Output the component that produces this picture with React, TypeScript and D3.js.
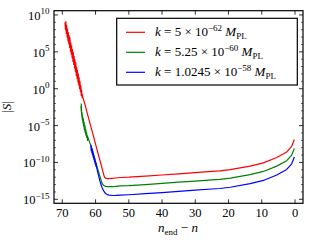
import * as d3 from "d3";

// [n_end - n, log10 |S|]
const redCurve: [number, number][] = [
  [69.2, 8.97], [69.05, 8.0], [68.95, 9.1], [68.8, 7.5], [68.7, 8.6], [68.55, 7.0], [68.45, 8.1],
  [68.3, 6.5], [68.2, 7.6], [68.05, 6.1], [67.95, 7.2], [67.8, 5.6], [67.7, 6.9], [67.55, 5.1],
  [67.45, 6.2], [67.3, 4.7], [67.2, 5.8], [67.05, 4.2], [66.95, 5.3], [66.8, 3.7], [66.7, 4.9],
  [66.55, 3.3], [66.45, 4.4], [66.3, 2.8], [66.2, 3.9], [66.05, 2.3], [65.95, 3.5], [65.8, 1.8],
  [65.7, 2.9], [65.55, 1.4], [65.45, 2.5], [65.3, 0.9], [65.2, 2.0], [65.05, 0.5], [64.95, 1.5],
  [64.8, 0.0], [64.7, 1.0], [64.55, -0.4], [64.45, 0.4], [64.3, -0.9], [64.2, -0.2], [64.05, -1.2],
  [63.95, -0.8], [63.86, -1.1], [63.4, -1.8], [63, -2.47], [62, -4.15], [61, -5.83], [60, -7.51],
  [59, -9.19], [58, -10.87], [57.5, -11.71], [57.3, -12.0], [57.0, -12.13], [56.6, -12.18],
  [56, -12.18], [55, -12.15], [54, -12.11], [52.6, -12.04], [50, -12.0], [45, -11.86], [40, -11.7],
  [35, -11.54], [30, -11.38], [25, -11.22], [22.6, -11.15], [19.5, -10.98], [13.5, -10.5],
  [9.5, -10.06], [5.5, -9.33], [2.5, -8.58], [1.0, -7.81], [0.2, -6.9],
];

const greenCurve: [number, number][] = [
  [64.3, -2.0], [64.2, -3.2], [64.4, -2.4], [64.15, -3.7], [64.25, -2.9], [64.0, -4.1],
  [64.1, -3.2], [63.8, -4.6], [63.9, -3.7], [63.6, -5.0], [63.65, -4.1], [63.4, -5.5],
  [63.45, -4.6], [63.15, -5.9], [63.2, -5.0], [62.9, -6.3], [62.95, -5.5], [62.65, -6.6],
  [62.7, -6.0], [62.4, -7.0], [62.45, -6.4], [62.06, -6.9], [61.5, -7.62], [61, -8.38],
  [60, -9.9], [59, -11.41], [58.5, -12.17], [58.06, -12.8], [57.7, -13.05], [57.36, -13.17],
  [57.0, -13.24], [56.5, -13.28], [55, -13.28], [54, -13.25], [52.6, -13.19], [50, -13.15],
  [45, -13.0], [40, -12.84], [35, -12.68], [30, -12.52], [25, -12.36], [22.6, -12.29],
  [19.5, -12.12], [13.5, -11.66], [9.5, -11.22], [5.5, -10.5], [2.5, -9.76], [1.0, -9.0],
  [0.2, -8.12],
];

const blueCurve: [number, number][] = [
  [61.4, -7.6], [61.3, -8.4], [61.25, -7.8], [61.1, -8.7], [61.05, -8.1], [60.9, -9.0],
  [60.85, -8.4], [60.7, -9.3], [60.65, -8.75], [60.5, -9.6], [60.45, -9.1], [60.3, -9.9],
  [60.25, -9.45], [60.1, -10.2], [60.05, -9.8], [59.9, -10.5], [59.85, -10.1], [59.65, -10.75],
  [59.3, -11.4], [59.0, -11.95], [58.7, -12.5], [58.36, -13.0], [58.0, -13.45], [57.6, -13.82],
  [57.06, -14.19], [56.5, -14.36], [55.86, -14.44], [55, -14.48], [54, -14.47], [52.6, -14.43],
  [50, -14.38], [45, -14.24], [40, -14.08], [35, -13.92], [30, -13.76], [25, -13.6],
  [22.6, -13.53], [19.5, -13.36], [13.5, -12.88], [9.5, -12.44], [5.5, -11.71], [2.5, -10.95],
  [1.0, -10.18], [0.2, -9.25],
];

const xTicks = [70, 60, 50, 40, 30, 20, 10, 0];
const yMajorExp = [-15, -10, -5, 0, 5, 10];
const yMinorExp = [-14, -13, -12, -11, -9, -8, -7, -6, -4, -3, -2, -1, 1, 2, 3, 4, 6, 7, 8, 9];

const legendColors = ["#ff0000", "#008000", "#0000ff"];
const legendMantissa = ["5", "5.25", "1.0245"];
const legendExp = ["\u221262", "\u221260", "\u221258"];

const FONT = "'Liberation Serif', 'DejaVu Serif', serif";

export default function App() {
  const W = 320, H = 240;
  const left = 54, right = 303, top = 10.7, bottom = 203.3;

  const x = d3.scaleLinear().domain([72.5, -2.4]).range([left, right]);
  const y = d3.scaleLog()
    .domain([Math.pow(10, -15.54), Math.pow(10, 10.58)])
    .range([bottom, top]);

  const line = d3.line<[number, number]>()
    .x(d => x(d[0]))
    .y(d => y(Math.pow(10, d[1])));

  const series = [redCurve, greenCurve, blueCurve];
  const expLabel = (e: number) => (e < 0 ? "\u2212" + Math.abs(e) : String(e));

  return (
    <svg width={W} height={H} style={{ position: "absolute", left: 0, top: 0 }} fontFamily={FONT}>
      <rect width={W} height={H} fill="#fff" />

      {series.map((s, i) => (
        <path key={i} d={line(s)!} fill="none" stroke={legendColors[i]} strokeWidth={1.2} strokeLinejoin="round" />
      ))}

      {/* frame */}
      <rect x={left} y={top} width={right - left} height={bottom - top} fill="none" stroke="#000" strokeWidth={1.2} />

      {/* x ticks */}
      {xTicks.map(t => (
        <g key={t}>
          <line x1={x(t)} x2={x(t)} y1={bottom} y2={bottom - 4} stroke="#000" strokeWidth={0.8} />
          <line x1={x(t)} x2={x(t)} y1={top} y2={top + 4} stroke="#000" strokeWidth={0.8} />
          <text x={x(t)} y={216.5} textAnchor="middle" fontSize={12.5}>{t}</text>
        </g>
      ))}

      {/* y ticks */}
      {yMajorExp.map(e => {
        const yy = y(Math.pow(10, e));
        return (
          <g key={e}>
            <line x1={left} x2={left + 4} y1={yy} y2={yy} stroke="#000" strokeWidth={0.8} />
            <line x1={right} x2={right - 4} y1={yy} y2={yy} stroke="#000" strokeWidth={0.8} />
            <text x={49.5} y={yy + 5} textAnchor="end" fontSize={12.5}>
              10<tspan dy={-5.5} fontSize={9}>{expLabel(e)}</tspan>
            </text>
          </g>
        );
      })}
      {yMinorExp.map(e => {
        const yy = y(Math.pow(10, e));
        return (
          <g key={e}>
            <line x1={left} x2={left + 2} y1={yy} y2={yy} stroke="#000" strokeWidth={0.6} />
            <line x1={right} x2={right - 2} y1={yy} y2={yy} stroke="#000" strokeWidth={0.6} />
          </g>
        );
      })}

      {/* axis labels */}
      <text x={178} y={232} textAnchor="middle" fontSize={13}>
        <tspan fontStyle="italic">n</tspan>
        <tspan dy={3} fontSize={9}>end</tspan>
        <tspan dy={-3}> {"\u2212"} </tspan>
        <tspan fontStyle="italic">n</tspan>
      </text>
      <text transform="translate(11,107) rotate(-90)" textAnchor="middle" fontSize={13}>
        |<tspan fontStyle="italic">S</tspan>|
      </text>

      {/* legend */}
      <rect x={116.7} y={18.3} width={180.6} height={66.7} fill="#fff" stroke="#000" strokeWidth={1.2} />
      {legendColors.map((c, i) => {
        const ly = 32.3 + i * 20;
        return (
          <g key={c}>
            <line x1={126} x2={145} y1={ly} y2={ly} stroke={c} strokeWidth={1.2} />
            <text x={155} y={ly + 4} fontSize={13}>
              <tspan fontStyle="italic">k</tspan>
              <tspan> = {legendMantissa[i]} {"\u00d7"} 10</tspan>
              <tspan dy={-5} fontSize={9}>{legendExp[i]}</tspan>
              <tspan dy={5} fontStyle="italic"> M</tspan>
              <tspan dy={2.5} fontSize={9}>PL</tspan>
            </text>
          </g>
        );
      })}
    </svg>
  );
}
